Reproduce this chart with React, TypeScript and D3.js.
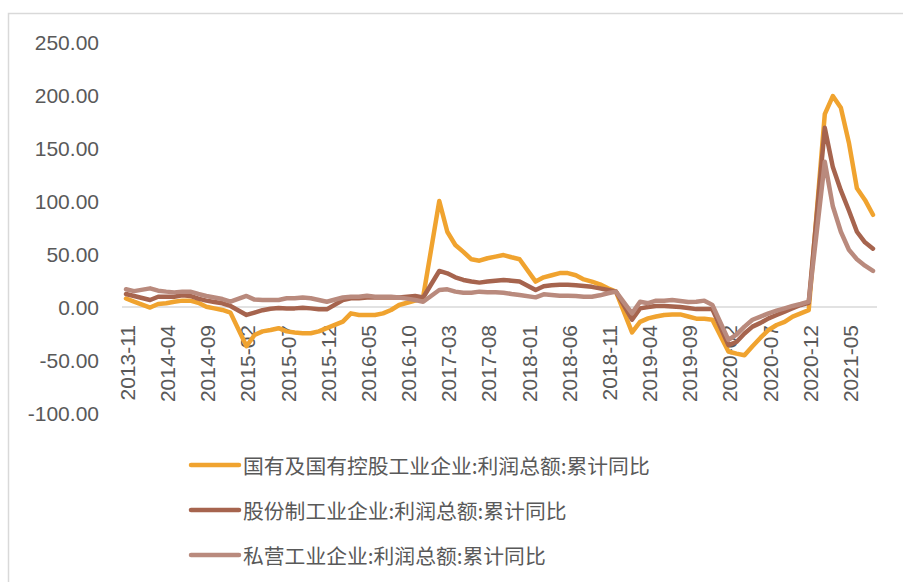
import { useEffect, useRef } from "react";
import * as d3 from "d3";

// monthly categories, 2013-11 .. 2021-08
const months: string[] = [
  "2013-11", "2013-12",
  "2014-01", "2014-02", "2014-03", "2014-04", "2014-05", "2014-06", "2014-07", "2014-08", "2014-09", "2014-10", "2014-11", "2014-12",
  "2015-01", "2015-02", "2015-03", "2015-04", "2015-05", "2015-06", "2015-07", "2015-08", "2015-09", "2015-10", "2015-11", "2015-12",
  "2016-01", "2016-02", "2016-03", "2016-04", "2016-05", "2016-06", "2016-07", "2016-08", "2016-09", "2016-10", "2016-11", "2016-12",
  "2017-01", "2017-02", "2017-03", "2017-04", "2017-05", "2017-06", "2017-07", "2017-08", "2017-09", "2017-10", "2017-11", "2017-12",
  "2018-01", "2018-02", "2018-03", "2018-04", "2018-05", "2018-06", "2018-07", "2018-08", "2018-09", "2018-10", "2018-11", "2018-12",
  "2019-01", "2019-02", "2019-03", "2019-04", "2019-05", "2019-06", "2019-07", "2019-08", "2019-09", "2019-10", "2019-11", "2019-12",
  "2020-01", "2020-02", "2020-03", "2020-04", "2020-05", "2020-06", "2020-07", "2020-08", "2020-09", "2020-10", "2020-11", "2020-12",
  "2021-01", "2021-02", "2021-03", "2021-04", "2021-05", "2021-06", "2021-07", "2021-08",
];

// January is not published on its own (Jan-Feb combined), so those are null
const soe: (number | null)[] = [
  8, 5,
  null, -0.5, 2.8, 3.5, 5, 6, 6, 4, 0.3, -1.3, -2.8, -5.3,
  null, -37, -26.4, -23, -21.7, -20, -23, -24, -24.8, -24.8, -23, -20,
  null, -13.8, -6, -7.5, -7.5, -7.5, -6, -2.8, 1.9, 4, 6, 9.7,
  null, 100, 71, 58.5, 52, 45, 43.7, 46, 47.5, 49, 46.9, 45,
  null, 24, 28, 30, 32, 32, 30, 26, 24, 21.4, 17.6, 14.5,
  null, -24, -14, -10.7, -9, -7.5, -7, -7, -9, -11, -11, -12,
  null, -42, -44, -45.5, -37, -29, -21.7, -17, -14, -9, -6, -3,
  null, 182, 199, 188, 155, 112, 101, 87,
];

const jointStock: (number | null)[] = [
  12.3, 10.4,
  null, 6.6, 9.7, 9.7, 9.7, 11, 10.4, 7.9, 6, 4.7, 3.5, 1,
  null, -7.5, -5.3, -3, -1.6, -1, -1.3, -1.3, -0.6, -1.3, -2.2, -2.2,
  null, 6.6, 8.2, 8.2, 9, 9, 9, 9, 9, 9.7, 10.4, 9,
  null, 34, 31.8, 28, 25.5, 24, 23, 24, 24.8, 25.5, 24.8, 24,
  null, 16, 19.5, 20.5, 21, 21, 20.5, 19.8, 19, 17.6, 16, 14.5,
  null, -12, -1.3, 0, 1, 1, 0.5, 0, -1, -2, -2, -2,
  null, -36, -33, -25, -18.5, -15, -10.7, -7.5, -4.4, -1.2, 1.9, 4,
  null, 169, 132, 110, 91, 71, 61, 55,
];

const privateEnt: (number | null)[] = [
  16.7, 15,
  null, 17.6, 15.4, 14.5, 13.8, 14.5, 14.5, 12.3, 10.4, 9, 7.5, 5,
  null, 10.4, 7, 6.6, 6.6, 6.6, 8.2, 8.2, 9, 8.2, 6.6, 5,
  null, 9, 9.7, 9.7, 10.7, 9.7, 9.7, 9.7, 9, 7.9, 6.6, 5,
  null, 16, 16.7, 14.5, 13.5, 13.5, 14.5, 14, 14, 13.5, 12.3, 11.3,
  null, 9.1, 12, 11.3, 10.7, 10.7, 10.4, 9.7, 9.7, 11, 13, 14.5,
  null, -6, 5, 3.6, 6, 6, 6.6, 5.7, 4.7, 5, 6, 2,
  null, -31, -26, -18.5, -12, -9, -6, -3.5, -1.3, 1, 2.8, 5,
  null, 137, 95, 71, 54, 45, 39, 34,
];

const seriesNames = [
  "国有及国有控股工业企业:利润总额:累计同比",
  "股份制工业企业:利润总额:累计同比",
  "私营工业企业:利润总额:累计同比",
];
const seriesColors = ["#F0A32F", "#A6644E", "#B98A7D"];
const yTicks = [-100, -50, 0, 50, 100, 150, 200, 250];

const W = 903;
const H = 582;

export default function App() {
  const svgRef = useRef<SVGSVGElement>(null);

  useEffect(() => {
    if (!svgRef.current) return;
    const svg = d3.select(svgRef.current);
    svg.selectAll("*").remove();

    const x = d3.scaleBand<string>().domain(months).range([122, 877]);
    const y = d3.scaleLinear().domain([-100, 250]).range([413, 42]);
    const cx = (m: string) => (x(m) ?? 0) + x.bandwidth() / 2;

    // outer chart border (cropped at right/bottom)
    svg
      .append("rect")
      .attr("x", 8.5)
      .attr("y", 13.5)
      .attr("width", 1000)
      .attr("height", 1000)
      .attr("fill", "none")
      .attr("stroke", "#d9d9d9")
      .attr("stroke-width", 1.5);

    // y labels
    svg
      .append("g")
      .selectAll("text")
      .data(yTicks)
      .join("text")
      .attr("x", 99)
      .attr("y", (d) => y(d))
      .attr("text-anchor", "end")
      .attr("dominant-baseline", "central")
      .style("font-family", "'Liberation Sans', Arial, sans-serif")
      .style("font-size", "21px")
      .style("fill", "#595959")
      .text((d) => d.toFixed(2));

    // zero axis line
    svg
      .append("line")
      .attr("x1", 122)
      .attr("x2", 877)
      .attr("y1", y(0))
      .attr("y2", y(0))
      .attr("stroke", "#d9d9d9")
      .attr("stroke-width", 1.5);

    // x labels every 5 months, rotated
    svg
      .append("g")
      .selectAll("text")
      .data(months.filter((_, i) => i % 5 === 0))
      .join("text")
      .attr("transform", (d) => `translate(${cx(d) + 1.5},${y(0) + 18}) rotate(-90)`)
      .attr("text-anchor", "end")
      .attr("dominant-baseline", "central")
      .style("font-family", "'Liberation Sans', Arial, sans-serif")
      .style("font-size", "21px")
      .style("fill", "#595959")
      .text((d) => d);

    // lines
    const allSeries = [soe, jointStock, privateEnt];
    const line = d3
      .line<{ m: string; v: number }>()
      .x((d) => cx(d.m))
      .y((d) => y(d.v));

    allSeries.forEach((vals, k) => {
      const pts = months
        .map((m, i) => ({ m, v: vals[i] }))
        .filter((p): p is { m: string; v: number } => p.v !== null);
      svg
        .append("path")
        .datum(pts)
        .attr("d", line)
        .attr("fill", "none")
        .attr("stroke", seriesColors[k])
        .attr("stroke-width", 4.5)
        .attr("stroke-linejoin", "round")
        .attr("stroke-linecap", "round");
    });

    // legend
    const lg = svg.append("g");
    seriesNames.forEach((name, k) => {
      const ly = 465 + k * 45;
      lg.append("line")
        .attr("x1", 191)
        .attr("x2", 239)
        .attr("y1", ly)
        .attr("y2", ly)
        .attr("stroke", seriesColors[k])
        .attr("stroke-width", 4.5)
        .attr("stroke-linecap", "round");
      lg.append("text")
        .attr("x", 243)
        .attr("y", ly)
        .attr("dominant-baseline", "central")
        .style("font-family", "'Noto Sans CJK SC', sans-serif")
        .style("font-size", "20.8px")
        .style("fill", "#595959")
        .text(name);
    });
  }, []);

  return (
    <svg
      ref={svgRef}
      width={W}
      height={H}
      style={{ position: "absolute", left: 0, top: 0, background: "#fff" }}
    />
  );
}
